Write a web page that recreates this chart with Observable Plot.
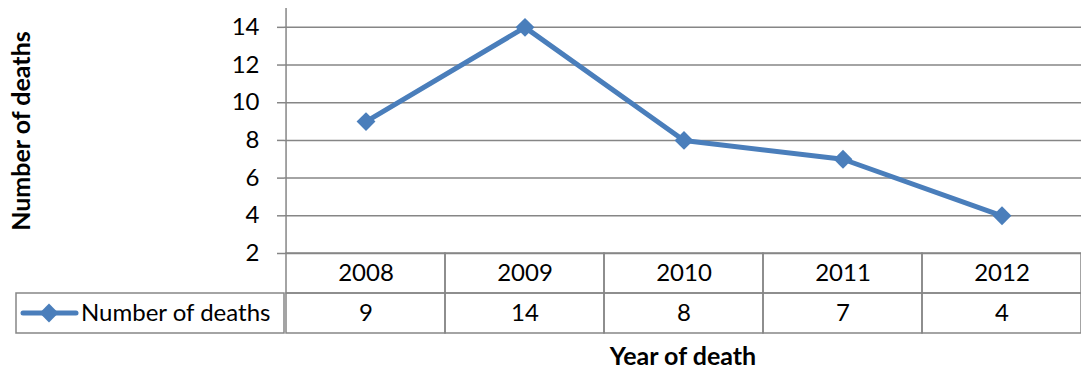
<!DOCTYPE html>
<html><head><meta charset="utf-8">
<script src="https://cdn.jsdelivr.net/npm/d3@7"></script>
<script src="https://cdn.jsdelivr.net/npm/@observablehq/plot@0.6"></script>
<style>body{margin:0;background:#fff;}</style>
</head><body><div id="chart"></div>
<script>
const years = ["2008", "2009", "2010", "2011", "2012"];
const deaths = [9, 14, 8, 7, 4];
const yTicks = [2, 4, 6, 8, 10, 12, 14];
const seriesName = "Number of deaths";
const yLabel = "Number of deaths";
const xLabel = "Year of death";

const data = years.map((y, i) => ({year: y, value: deaths[i]}));

const W = 1081, H = 372, mL = 284, mR = 0, mT = 8, mB = 39;
const rowPx = 40;            // height of each data-table row
const yMin = 2, yMax = 15;
const k = (H - mT - mB - 2 * rowPx) / (yMax - yMin);
const r1 = yMin - rowPx / k, r2 = yMin - 2 * rowPx / k;
const xRight = W + 2.5;      // right table border falls just outside the picture
const bw = (xRight - mL) / years.length;
const blue = "#4a7ebb", grid = "#868686";
const font = "Lato, 'Open Sans', sans-serif";
const fs = 24, fsb = 25;

const plot = Plot.plot({
  width: W, height: H,
  marginLeft: mL, marginRight: mR, marginTop: mT, marginBottom: mB,
  style: {fontFamily: font, fontSize: fs + "px", color: "#000", background: "#fff"},
  x: {type: "band", domain: years, padding: 0, range: [mL, xRight], axis: null},
  y: {type: "linear", domain: [r2, yMax], axis: null},
  marks: [
    Plot.ruleY(yTicks, {stroke: grid, strokeWidth: 1.5}),
    Plot.axisY(yTicks, {tickSize: 7, tickPadding: 18, stroke: grid, strokeWidth: 1.5, fill: "#000", fontSize: fs, label: null}),
    Plot.ruleX([years[0]], {y1: yMin, y2: yMax, dx: -bw / 2, stroke: grid, strokeWidth: 1.5}),
    Plot.barY(data, {x: "year", y1: yMin, y2: r1, fill: "none", stroke: grid, strokeWidth: 1.5, inset: 0}),
    Plot.barY(data, {x: "year", y1: r1, y2: r2, fill: "none", stroke: grid, strokeWidth: 1.5, inset: 0}),
    Plot.text(data, {x: "year", y: (yMin + r1) / 2, text: "year", fontSize: fs, fill: "#000"}),
    Plot.text(data, {x: "year", y: (r1 + r2) / 2, text: d => String(d.value), fontSize: fs, fill: "#000"}),
    Plot.line(data, {x: "year", y: "value", stroke: blue, strokeWidth: 5}),
    Plot.dot(data, {x: "year", y: "value", symbol: "diamond2", r: 8.5, fill: blue, stroke: "none"}),
    Plot.text([yLabel], {frameAnchor: "left", y: (yMin + yMax) / 2, rotate: -90, dx: -263, textAnchor: "middle", fontWeight: "bold", fontSize: fsb, fill: "#000"}),
    Plot.text([xLabel], {frameAnchor: "bottom", dy: 23, lineAnchor: "middle", textAnchor: "middle", fontWeight: "bold", fontSize: fsb, fill: "#000"})
  ]
});

// legend cell of the data table, placed with the plot's y scale
const ys = plot.scale("y");
const svg = d3.select(plot);
const yA = ys.apply(r1), yB = ys.apply(r2), yc = (yA + yB) / 2;
const lg = svg.append("g");
lg.append("rect").attr("x", 16).attr("y", yA).attr("width", mL - 16).attr("height", yB - yA)
  .attr("fill", "none").attr("stroke", grid).attr("stroke-width", 1.5);
lg.append("line").attr("x1", 23).attr("x2", 76).attr("y1", yc).attr("y2", yc)
  .attr("stroke", blue).attr("stroke-width", 5).attr("stroke-linecap", "round");
lg.append("path").attr("d", d3.symbol(d3.symbolDiamond2, Math.PI * 72)())
  .attr("transform", `translate(49,${yc})`).attr("fill", blue);
lg.append("text").attr("x", 81).attr("y", yc).attr("dy", "0.35em").attr("text-anchor", "start")
  .attr("font-size", fs).attr("fill", "#000").text(seriesName);

document.getElementById("chart").appendChild(plot);
</script>
</body></html>
